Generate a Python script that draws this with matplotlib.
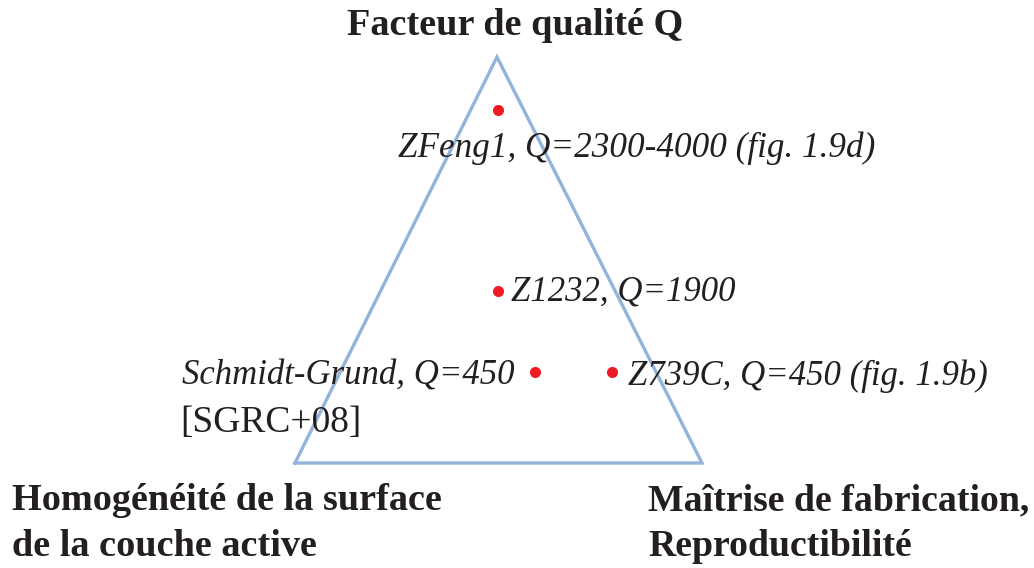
import matplotlib.pyplot as plt

plt.rcParams['font.family'] = ['Liberation Serif', 'DejaVu Serif']

# sommets du triangle (coordonnées)
tri_x = [295, 497, 702, 295]
tri_y = [463, 57, 463, 463]

# échantillons
noms = ["ZFeng1", "Z1232", "Schmidt-Grund", "Z739C"]
pts_x = [498, 498, 535, 612]
pts_y = [110, 291, 372, 372]
labels = ["ZFeng1, Q=2300-4000 (fig. 1.9d)",
          "Z1232, Q=1900",
          "Schmidt-Grund, Q=450",
          "Z739C, Q=450 (fig. 1.9b)"]

fig = plt.figure(figsize=(10.34, 5.68), dpi=100)
ax = fig.add_axes([0, 0, 1, 1])
ax.set_xlim(0, 1034)
ax.set_ylim(568, 0)
ax.axis("off")

ax.plot(tri_x, tri_y, color="#93b4da", lw=2.4, solid_joinstyle="miter")
ax.plot(pts_x, pts_y, "o", color="#ed1c24", ms=8, mec="none")

# textes des échantillons
ax.text(398, 157, labels[0], style="italic", fontsize=25.3, va="baseline", ha="left", color="#231f20")
ax.text(511, 300, labels[1], style="italic", fontsize=25, va="baseline", ha="left", color="#231f20")
ax.text(515, 385, labels[2], style="italic", fontsize=25, va="baseline", ha="right", color="#231f20")
ax.text(180, 432, "[SGRC+08]", fontsize=27, va="baseline", ha="left", color="#231f20")
ax.text(628, 385, labels[3], style="italic", fontsize=25, va="baseline", ha="left", color="#231f20")

# titres des sommets
ax.text(515, 35, "Facteur de qualité Q", fontsize=27.5, weight="bold", va="baseline", ha="center", color="#231f20")
ax.text(12, 510, "Homogénéité de la surface", fontsize=27.5, weight="bold", va="baseline", ha="left", color="#231f20")
ax.text(12, 556, "de la couche active", fontsize=27.5, weight="bold", va="baseline", ha="left", color="#231f20")
ax.text(648, 510, "Maîtrise de fabrication,", fontsize=27.2, weight="bold", va="baseline", ha="left", color="#231f20")
ax.text(648, 556, "Reproductibilité", fontsize=27.2, weight="bold", va="baseline", ha="left", color="#231f20")

fig.savefig("out.png", dpi=100)
